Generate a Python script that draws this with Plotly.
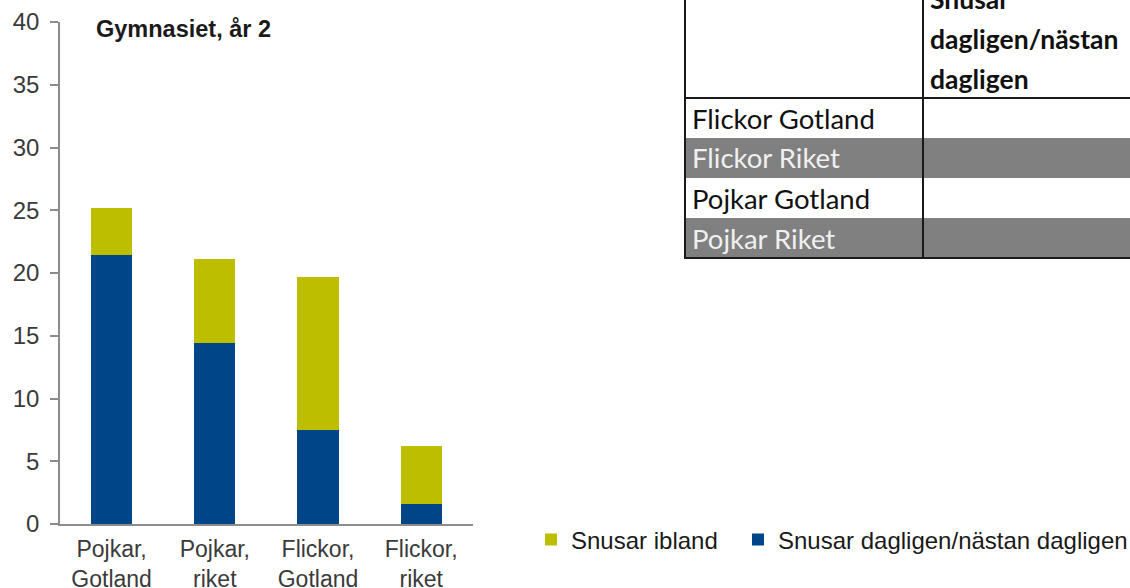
import plotly.graph_objects as go

# Chart data
categories = ["Pojkar,<br>Gotland", "Pojkar,<br>riket", "Flickor,<br>Gotland", "Flickor,<br>riket"]
daily = [21.4, 14.4, 7.5, 1.6]          # Snusar dagligen/nästan dagligen
sometimes = [3.8, 6.7, 12.2, 4.6]       # Snusar ibland
series_names = ["Snusar dagligen/nästan dagligen", "Snusar ibland"]
y_ticks = [0, 5, 10, 15, 20, 25, 30, 35, 40]
chart_title = "Gymnasiet, år 2"

# Side table text
table_header = ["Snusar", "dagligen/nästan", "dagligen"]
table_rows = ["Flickor Gotland", "Flickor Riket", "Pojkar Gotland", "Pojkar Riket"]

W, H = 1130, 588
BLUE = "#004587"
OLIVE = "#BEBE00"
AXIS = "#8c8c8c"
TXT = "#3a3a3a"
ARIAL = "Liberation Sans, Arial, sans-serif"
CALIBRI = "Lato, Carlito, Calibri, sans-serif"


def px(x):
    return x / W


def py(y):
    return 1 - y / H


fig = go.Figure()
fig.add_trace(go.Bar(x=categories, y=daily, name=series_names[0], legend="legend2",
                     marker=dict(color=BLUE, line=dict(width=0)), width=0.4))
fig.add_trace(go.Bar(x=categories, y=sometimes, name=series_names[1], legend="legend",
                     marker=dict(color=OLIVE, line=dict(width=0)), width=0.4))

shapes = []
annotations = []

# Table: striped rows
row_top, row_h = 98, 40
for i, label in enumerate(table_rows):
    y0 = row_top + i * row_h
    gray = i % 2 == 1
    if gray:
        shapes.append(dict(type="rect", xref="paper", yref="paper",
                           x0=px(685), x1=px(W + 10), y0=py(y0), y1=py(y0 + row_h),
                           fillcolor="#808080", line=dict(width=0), layer="below"))
    annotations.append(dict(x=px(690), y=py(y0 + row_h / 2), xref="paper", yref="paper",
                            text=label, showarrow=False, xanchor="left", yanchor="middle",
                            font=dict(family=CALIBRI, size=27.5,
                                      color="#f0f0f0" if gray else "#111111")))

# Table: header lines (top line runs off the page)
for j, line in enumerate(table_header):
    annotations.append(dict(x=px(928), y=py(-1 + j * 40), xref="paper", yref="paper",
                            text=f"<b>{line}</b>", showarrow=False,
                            xanchor="left", yanchor="middle",
                            font=dict(family=CALIBRI, size=26.5, color="#111111")))

# Table: borders
bottom = row_top + len(table_rows) * row_h
border = dict(color="#1a1a1a", width=2)
for x in (685, 923):
    shapes.append(dict(type="line", xref="paper", yref="paper",
                       x0=px(x), x1=px(x), y0=py(-5), y1=py(bottom + 1), line=border))
for y in (row_top, bottom):
    shapes.append(dict(type="line", xref="paper", yref="paper",
                       x0=px(685), x1=px(W + 10), y0=py(y), y1=py(y), line=border))

# Chart title
annotations.append(dict(x=px(94), y=py(29), xref="paper", yref="paper",
                        text=f"<b>{chart_title}</b>", showarrow=False,
                        xanchor="left", yanchor="middle",
                        font=dict(family=ARIAL, size=23.5, color="#1a1a1a")))

legend_style = dict(orientation="h", y=py(540), xanchor="left", yanchor="middle",
                    font=dict(family=ARIAL, size=24, color="#1a1a1a"),
                    bgcolor="rgba(0,0,0,0)")

fig.update_layout(
    width=W, height=H,
    margin=dict(l=0, r=0, t=0, b=0, autoexpand=False),
    paper_bgcolor="white", plot_bgcolor="white",
    barmode="stack",
    showlegend=True,
    legend=dict(x=px(531), **legend_style),
    legend2=dict(x=px(738), **legend_style),
    xaxis=dict(domain=[px(60), px(472.8)], showline=True, linecolor=AXIS, linewidth=1.5,
               ticks="", showgrid=False, zeroline=False, automargin=False,
               tickfont=dict(family=ARIAL, size=23, color=TXT),
               ticklabelstandoff=4),
    yaxis=dict(domain=[py(524), py(22)], range=[0, 40], tickvals=y_ticks,
               showline=True, linecolor=AXIS, linewidth=1.5,
               ticks="outside", ticklen=8, tickcolor=AXIS, tickwidth=1.5,
               showgrid=False, zeroline=False, automargin=False,
               tickfont=dict(family=ARIAL, size=24, color=TXT),
               ticklabelstandoff=6),
    shapes=shapes,
    annotations=annotations,
)

fig.write_html("out.html")
